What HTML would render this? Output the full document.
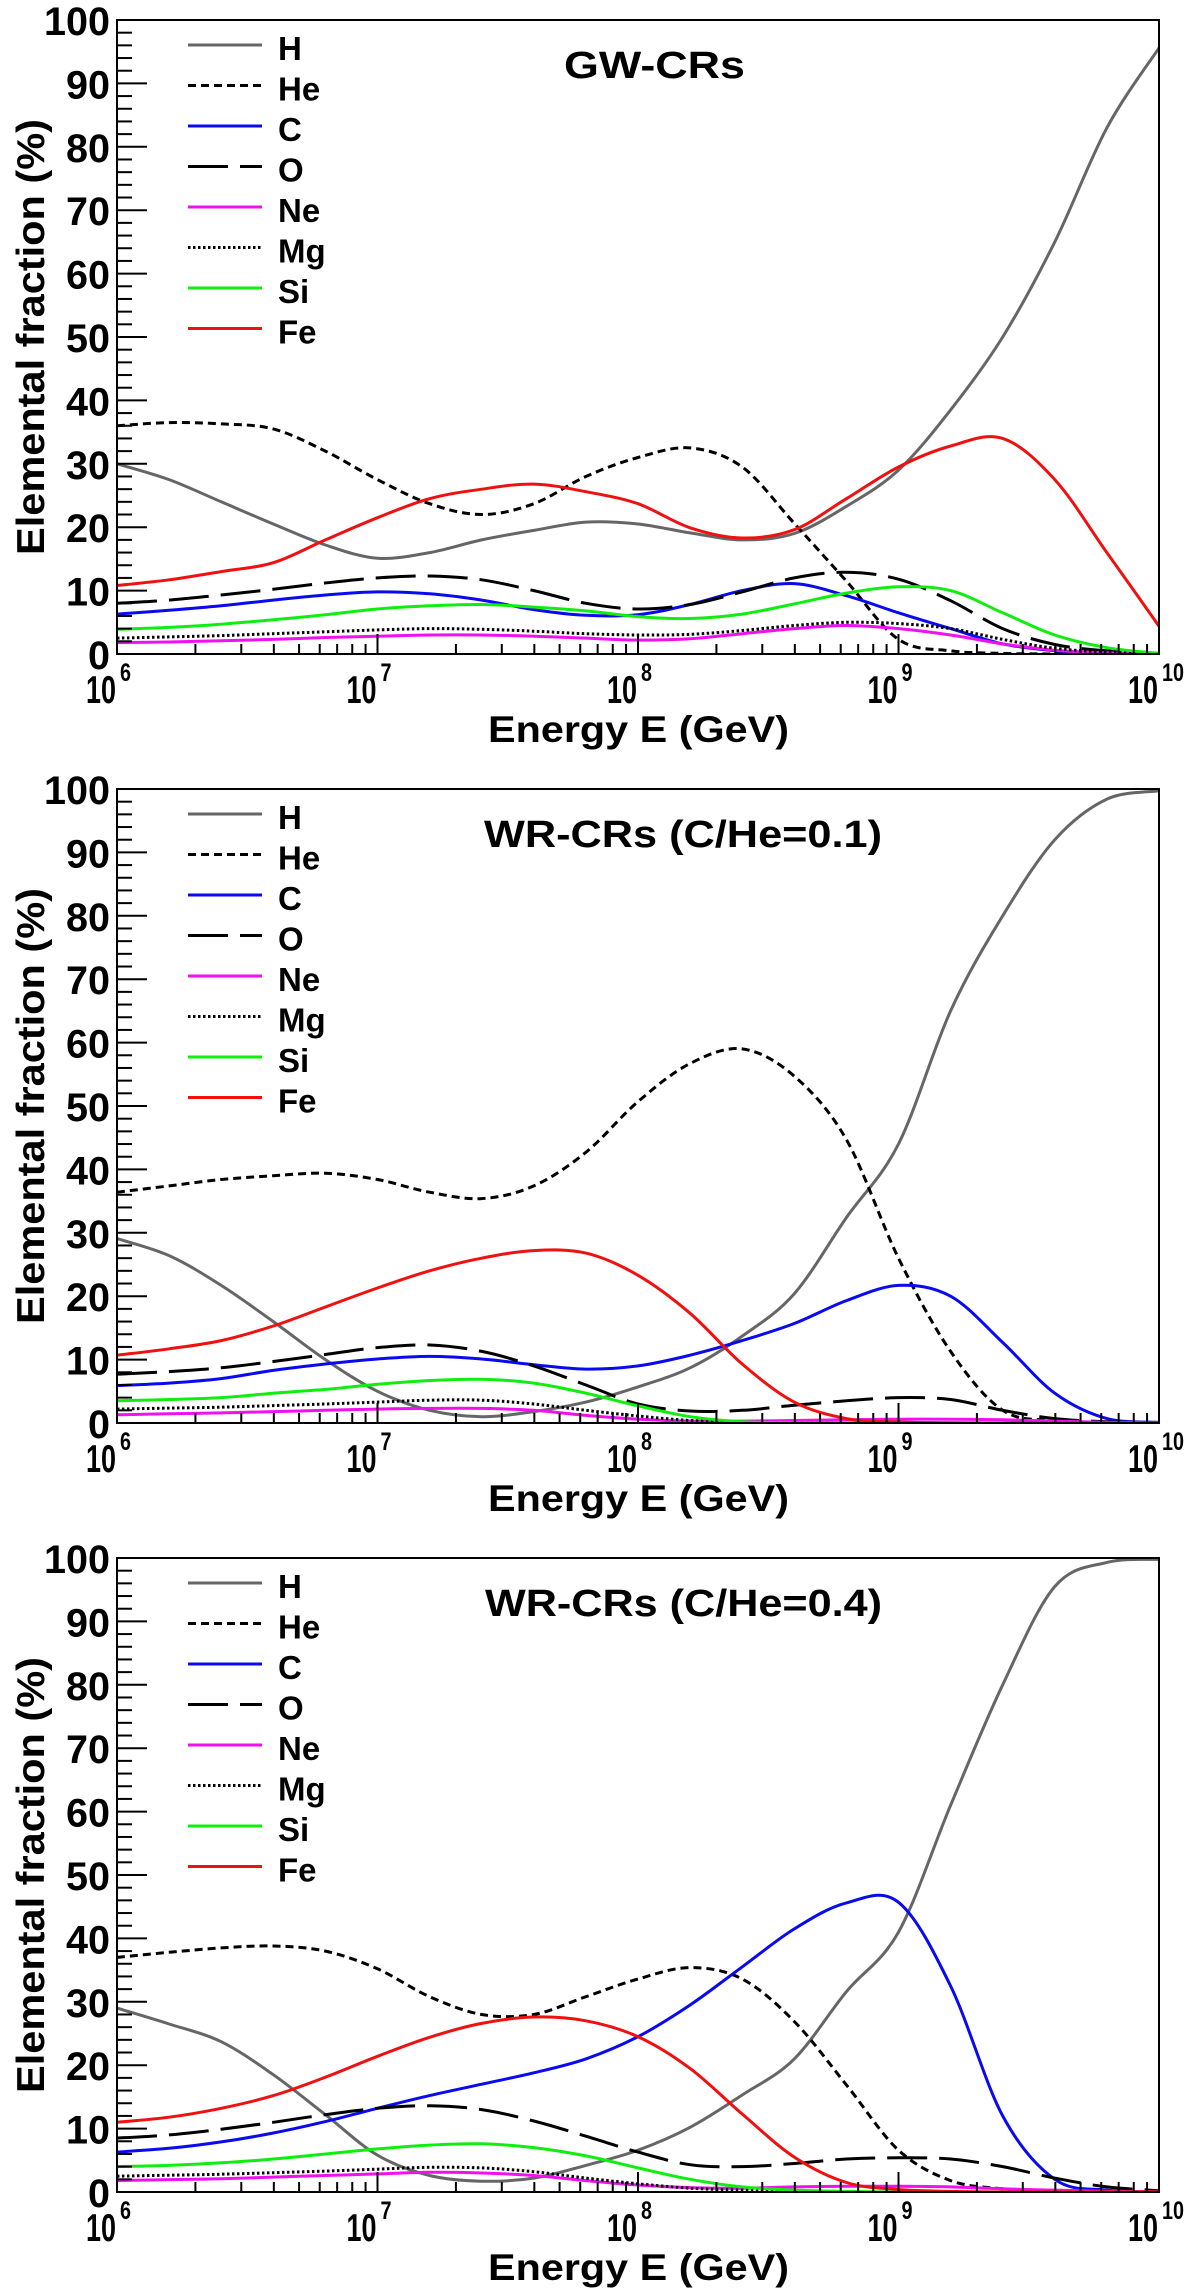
<!DOCTYPE html>
<html><head><meta charset="utf-8">
<style>
html,body{margin:0;padding:0;background:#fff;}
svg{display:block;font-family:"Liberation Sans",Arial,sans-serif;font-weight:bold;}
</style></head>
<body>
<svg id="fig" xmlns="http://www.w3.org/2000/svg" width="1200" height="2291" viewBox="0 0 1200 2291">
<rect x="0" y="0" width="1200" height="2291" fill="#fff"/>
</svg>
<script>
// shared energy grid (log10 E/GeV)
const logE = [6,6.2,6.4,6.6,6.8,7,7.2,7.4,7.6,7.8,8,8.2,8.4,8.6,8.8,9,9.2,9.4,9.6,9.8,10];
const yTicks = [0,10,20,30,40,50,60,70,80,90,100];
const xDecades = [6,7,8,9,10];
const elements = ["H","He","C","O","Ne","Mg","Si","Fe"];

// Panel 1: GW-CRs
const gwH  = [30,27.5,24,20.5,17.2,15.1,16,18,19.5,20.8,20.5,19.1,18,19,23.3,29,38.5,50,65,83,95.6];
const gwHe = [36,36.5,36.3,35.5,32,27.5,23.7,22,23.7,28,31,32.5,29.5,20.6,11.5,2.3,0.5,0.1,0,0,0];
const gwC  = [6.3,6.9,7.6,8.5,9.3,9.8,9.5,8.5,7,6.1,6.2,7.8,10,11.1,9.2,6.5,4,1.6,0.5,0.1,0];
const gwO  = [8,8.5,9.3,10.2,11.2,12,12.3,11.7,10,8,7.1,7.8,9.8,12,12.9,11.8,8.4,4,1.5,0.5,0.1];
const gwNe = [1.8,1.9,2.1,2.3,2.6,2.8,3,3,2.8,2.5,2.2,2.4,3.2,4,4.5,4,3,1.6,0.6,0.2,0.05];
const gwMg = [2.5,2.7,2.9,3.2,3.5,3.8,4,3.9,3.6,3.2,3,3.1,3.7,4.5,5,4.8,4,2.3,0.9,0.3,0.1];
const gwSi = [3.9,4.2,4.7,5.4,6.2,7.1,7.6,7.8,7.4,6.8,5.9,5.6,6.3,7.9,9.6,10.6,10,6.5,3,1,0.1];
const gwFe = [10.8,11.7,13,14.4,18,21.5,24.5,26,26.8,25.6,23.7,19.9,18.3,19.6,24.5,29.5,32.8,34,27.5,16,4.4];

// Panel 2: WR-CRs (C/He=0.1)
const wr1H  = [29.1,26.4,21.7,16,10,5,2,1,1.8,3.3,5.7,8.7,13.7,20.4,32.4,44,65,80,92,98.4,99.7];
const wr1He = [36.4,37.4,38.4,39,39.4,38.4,36.4,35.4,37.4,42.7,50.7,56.7,59,54.7,44.7,26,11.3,2,0.4,0.1,0];
const wr1C  = [5.9,6.3,7,8.3,9.3,10.1,10.5,10.1,9.2,8.5,9,10.7,13,15.7,19.3,21.7,20,12.7,4.7,0.7,0.1];
const wr1O  = [7.7,8.1,8.7,9.7,10.8,11.9,12.3,11.3,9,6,3,1.9,2,2.8,3.5,4,3.7,2,0.7,0.2,0.05];
const wr1Ne = [1.3,1.45,1.6,1.8,2,2.2,2.3,2.3,2,1.2,0.6,0.3,0.3,0.4,0.5,0.6,0.6,0.5,0.3,0.1,0.05];
const wr1Mg = [2.2,2.35,2.5,2.75,3,3.3,3.6,3.6,3,2,1.1,0.4,0.15,0.05,0,0,0,0,0,0,0];
const wr1Si = [3.5,3.7,4,4.7,5.3,6.1,6.7,6.9,6.3,4.7,2.7,1,0.2,0.05,0,0,0,0,0,0,0];
const wr1Fe = [10.7,11.7,13,15.3,18.3,21.3,24,26,27.2,26.8,23.3,17.3,9.3,3.3,0.7,0.15,0.05,0,0,0,0];

// Panel 3: WR-CRs (C/He=0.4)
const wr4H  = [29,26.5,23.7,18.5,12.2,5.8,2.6,1.7,2.2,4.2,6.6,10.2,15.3,21,31.6,41,61,80,95.5,99.3,99.8];
const wr4He = [37,37.8,38.5,38.8,38,35.2,30.8,28,28,30.8,33.6,35.4,33.6,26.9,16.9,6.6,1.8,0.5,0.1,0,0];
const wr4C  = [6.3,6.9,7.9,9.3,11.1,13.2,15.2,17,18.8,21,24.5,29.5,35.5,41.5,45.6,45.7,32.5,12,2,0.3,0];
const wr4O  = [8.5,9,9.9,11,12.2,13.2,13.6,13,11.2,8.8,6.3,4.3,4,4.5,5.2,5.4,5.2,4,2.2,0.8,0.2];
const wr4Ne = [1.8,1.95,2.1,2.35,2.6,2.85,3.1,3,2.6,1.8,1.1,0.7,0.6,0.8,0.9,0.9,0.8,0.5,0.3,0.1,0.05];
const wr4Mg = [2.5,2.65,2.8,3.05,3.3,3.6,3.9,3.8,3.2,2.2,1.3,0.6,0.3,0.1,0,0,0,0,0,0,0];
const wr4Si = [4,4.2,4.6,5.2,6,6.8,7.4,7.6,7,5.7,3.8,2,0.8,0.3,0.1,0,0,0,0,0,0];
const wr4Fe = [11,11.8,13.2,15.2,18.1,21.4,24.4,26.6,27.6,27,24.5,19.5,12.3,5.5,1.5,0.4,0.1,0,0,0,0];

const NS = "http://www.w3.org/2000/svg";
const svg = document.getElementById("fig");
const styles = {
  H:{c:"#666666",d:null}, He:{c:"#000",d:"8,5"}, C:{c:"#0a0af0",d:null}, O:{c:"#000",d:"40,12"},
  Ne:{c:"#f010f0",d:null}, Mg:{c:"#000",d:"2.5,2.5"}, Si:{c:"#10ee10",d:null}, Fe:{c:"#f01010",d:null}
};
const L = 117, R = 1159, PH = 634;

function mk(tag, attrs, parent){
  const e = document.createElementNS(NS, tag);
  for (const k in attrs) e.setAttribute(k, attrs[k]);
  (parent||svg).appendChild(e);
  return e;
}

function smoothPath(pts){
  let d = "M" + pts[0][0].toFixed(1) + "," + pts[0][1].toFixed(1);
  for (let i=0;i<pts.length-1;i++){
    const p0 = pts[Math.max(0,i-1)], p1 = pts[i], p2 = pts[i+1], p3 = pts[Math.min(pts.length-1,i+2)];
    const c1x = p1[0]+(p2[0]-p0[0])/6, c1y = p1[1]+(p2[1]-p0[1])/6;
    const c2x = p2[0]-(p3[0]-p1[0])/6, c2y = p2[1]-(p3[1]-p1[1])/6;
    d += " C"+c1x.toFixed(1)+","+c1y.toFixed(1)+" "+c2x.toFixed(1)+","+c2y.toFixed(1)+" "+p2[0].toFixed(1)+","+p2[1].toFixed(1);
  }
  return d;
}

function drawPanel(idx, top, series, title, titleX, titleLen){
  const B = top + PH;
  const xs = v => L + (v-6)/4*(R-L);
  const ys = v => B - v/100*PH;
  const g = mk("g", {});
  
  

  const cp = mk("clipPath", {id:"clip"+idx}, g);
  mk("rect", {x:L, y:top, width:R-L, height:PH}, cp);

  elements.forEach(el => {
    const vals = series[el];
    const pts = logE.map((e,i)=>[xs(e), ys(vals[i])]);
    const p = mk("path", {d:smoothPath(pts), fill:"none", stroke:styles[el].c, "stroke-width":3, "clip-path":"url(#clip"+idx+")", "stroke-linejoin":"round"}, g);
    if (styles[el].d) p.setAttribute("stroke-dasharray", styles[el].d);
    
    
  });

  const fr = mk("rect", {x:L, y:top, width:R-L, height:PH, fill:"none", stroke:"#000", "stroke-width":2}, g);
  
  

  for (let v=0; v<=100; v+=2){
    const major = v%10===0;
    mk("line", {x1:L, x2:L+(major?30:15), y1:ys(v), y2:ys(v), stroke:"#000", "stroke-width":2}, g);
  }
  yTicks.forEach(v => {
    const t = mk("text", {x:110, y:ys(v)+15, "text-anchor":"end", "font-size":40, textLength:(String(v).length*22), lengthAdjust:"spacingAndGlyphs"}, g);
    t.textContent = String(v);
    
    
  });

  for (let d=6; d<10; d++){
    for (let m=1; m<10; m++){
      const x = xs(d+Math.log10(m));
      mk("line", {x1:x, x2:x, y1:B, y2:B-(m===1?20:10), stroke:"#000", "stroke-width":2}, g);
    }
  }
  xDecades.forEach(d => {
    const x = xs(d);
    const t = mk("text", {x:x-1, y:B+49, "text-anchor":"end", "font-size":39, textLength:30, lengthAdjust:"spacingAndGlyphs"}, g);
    t.textContent = "10";
    
    
    const s = mk("text", {x:x+3, y:B+27, "font-size":25, textLength:(String(d).length*11), lengthAdjust:"spacingAndGlyphs"}, g);
    s.textContent = String(d);
    
    
  });

  const xt = mk("text", {x:488, y:B+88, "font-size":37, textLength:301, lengthAdjust:"spacingAndGlyphs"}, g);
  xt.textContent = "Energy E (GeV)";
  
  
  const yc = top + PH/2;
  const yt = mk("text", {x:0, y:0, "font-size":39, "text-anchor":"middle", textLength:436, lengthAdjust:"spacingAndGlyphs", transform:"translate(44,"+yc+") rotate(-90)"}, g);
  yt.textContent = "Elemental fraction (%)";
  
  

  const pt = mk("text", {x:titleX, y:top+58, "font-size":38, textLength:titleLen, lengthAdjust:"spacingAndGlyphs"}, g);
  pt.textContent = title;
  
  

  elements.forEach((el,i) => {
    const y = top + 25 + i*40.5;
    const ln = mk("line", {x1:188, x2:262, y1:y, y2:y, stroke:styles[el].c, "stroke-width":3}, g);
    if (styles[el].d) ln.setAttribute("stroke-dasharray", styles[el].d);
    
    
    const tx = mk("text", {x:278, y:y+15, "font-size":33}, g);
    tx.textContent = el;
    
    
  });
}

drawPanel(1, 20, {H:gwH,He:gwHe,C:gwC,O:gwO,Ne:gwNe,Mg:gwMg,Si:gwSi,Fe:gwFe}, "GW-CRs", 564, 181);
drawPanel(2, 789, {H:wr1H,He:wr1He,C:wr1C,O:wr1O,Ne:wr1Ne,Mg:wr1Mg,Si:wr1Si,Fe:wr1Fe}, "WR-CRs (C/He=0.1)", 484, 398);
drawPanel(3, 1558, {H:wr4H,He:wr4He,C:wr4C,O:wr4O,Ne:wr4Ne,Mg:wr4Mg,Si:wr4Si,Fe:wr4Fe}, "WR-CRs (C/He=0.4)", 485, 397);
</script>
</body></html>
